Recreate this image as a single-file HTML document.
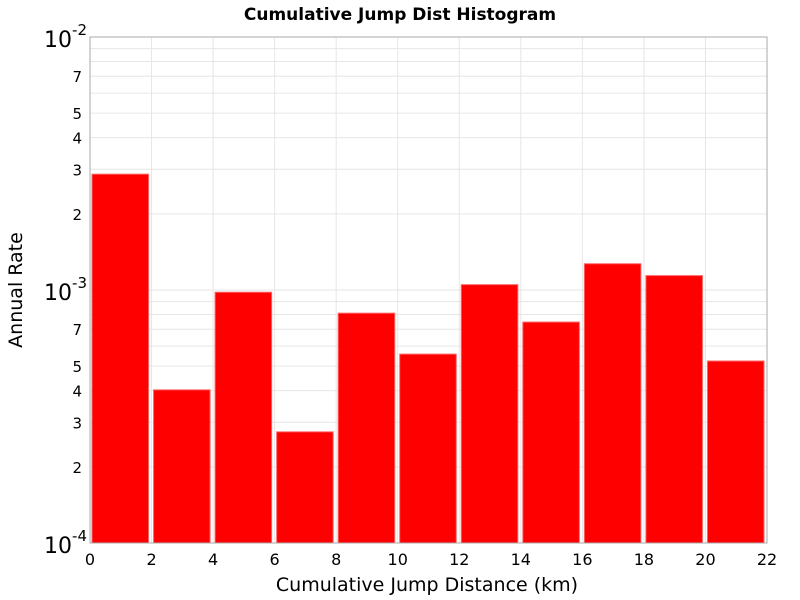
<!DOCTYPE html>
<html><head><meta charset="utf-8"><style>
body{margin:0;background:#fff;}
svg{display:block;font-family:"DejaVu Sans","Liberation Sans",sans-serif;}
</style></head><body>
<svg id="chart" width="800" height="600">
<text x="400" y="20" text-anchor="middle" font-size="17" font-weight="bold">Cumulative Jump Dist Histogram</text>
<text x="427" y="591" text-anchor="middle" font-size="19">Cumulative Jump Distance (km)</text>
<text transform="translate(22,290) rotate(-90)" text-anchor="middle" font-size="19">Annual Rate</text>
<g id="grid"></g><g id="bars"></g><g id="axes"></g>
</svg>
<script>
const binStarts=[0,2,4,6,8,10,12,14,16,18,20];
const rates=[2.87e-3,4.03e-4,9.8e-4,2.75e-4,8.1e-4,5.58e-4,1.05e-3,7.47e-4,1.27e-3,1.14e-3,5.24e-4];
const xTicks=[0,2,4,6,8,10,12,14,16,18,20,22];
const minorLabels=[2,3,4,5,7];
const NS='http://www.w3.org/2000/svg';
const L=90,R=767,T=37,B=543;
const xs=v=>L+(v/22)*(R-L);
const ys=v=>B-(Math.log10(v)+4)/2*(B-T);
function mk(tag,attrs,parent,text){const e=document.createElementNS(NS,tag);for(const k in attrs)e.setAttribute(k,attrs[k]);if(text!==undefined)e.textContent=text;parent.appendChild(e);return e;}
const grid=document.getElementById('grid'),bars=document.getElementById('bars'),axes=document.getElementById('axes');
for(const t of xTicks){const g=mk('line',{x1:xs(t),x2:xs(t),y1:T,y2:B,stroke:'#e6e6e6'},grid);


const lb=mk('text',{x:xs(t),y:B+22,'text-anchor':'middle','font-size':'16'},axes,String(t));

}
for(let d=-4;d<-2;d++){for(let m=1;m<10;m++){const v=m*Math.pow(10,d);const y=ys(v);
const g=mk('line',{x1:L,x2:R,y1:y,y2:y,stroke:'#e6e6e6'},grid);


if(minorLabels.includes(m)){const lb=mk('text',{x:L-8,y:y+6,'text-anchor':'end','font-size':'15'},axes,String(m));

}}}
for(const d of [-4,-3,-2]){const y=ys(Math.pow(10,d));const t=mk('text',{x:L-3,y:y+10,'text-anchor':'end','font-size':'22'},axes);


mk('tspan',{},t,'10');mk('tspan',{dy:'-12','font-size':'15'},t,String(d));}
binStarts.forEach((s,i)=>{const x0=xs(s)+2,x1=xs(s+2)-3,y=ys(rates[i]);
const r=mk('rect',{x:x0,y:y,width:x1-x0,height:B-y,fill:'#ff0000',stroke:'#ff6666','stroke-width':'1'},bars);

});
const f=mk('rect',{x:L,y:T,width:R-L,height:B-T,fill:'none',stroke:'#aaaaaa'},axes);


</script>
</body></html>
